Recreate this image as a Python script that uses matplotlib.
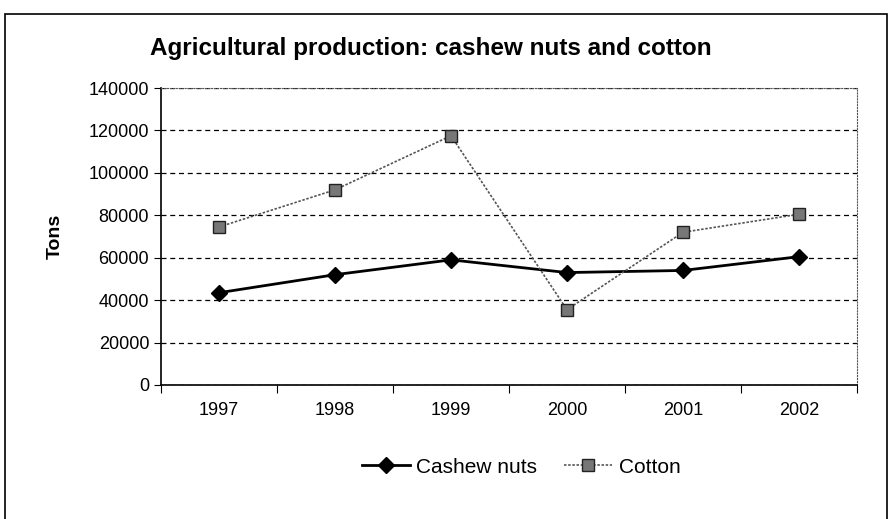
import matplotlib
matplotlib.use("Agg")
import matplotlib.pyplot as plt
from matplotlib.patches import Rectangle
import numpy as np

plt.rcParams['font.family'] = ['Liberation Sans', 'DejaVu Sans']

years = ['1997', '1998', '1999', '2000', '2001', '2002']
cashew = [43500, 52000, 59000, 53000, 54000, 60500]
cotton = [74500, 92000, 117500, 35500, 72000, 80500]

fig = plt.figure(figsize=(8.91, 5.19), dpi=100)
ax = fig.add_axes([0.1807, 0.2582, 0.7811, 0.5722])

# outer chart frame
fig.patches.append(Rectangle((0.006, -0.01), 0.99, 0.983, transform=fig.transFigure,
                             fill=False, edgecolor='black', linewidth=1.2))

x = np.arange(len(years))
ax.plot(x, cashew, color='black', linewidth=2, marker='D', markersize=8,
        markerfacecolor='black', label='Cashew nuts')
ax.plot(x, cotton, color='#555555', linewidth=1.2, linestyle=(0, (1.5, 1)),
        marker='s', markersize=9, markerfacecolor='#777777', markeredgecolor='#222222',
        label='Cotton')

ax.set_xlim(-0.5, 5.5)
ax.set_ylim(0, 140000)
ax.set_yticks(range(0, 140001, 20000))
ax.set_xticks(np.arange(-0.5, 6, 1))
ax.set_xticklabels([])
ax.set_xticks(x, minor=True)
ax.set_xticklabels(years, minor=True)
ax.tick_params(axis='x', which='minor', length=0, pad=12, labelsize=13)
ax.tick_params(axis='x', which='major', length=6, direction='out')
ax.tick_params(axis='y', length=5, direction='out', labelsize=13)

ax.yaxis.grid(True, color='black', linestyle=(0, (4, 3)), linewidth=0.9)
ax.set_axisbelow(True)
for side in ['top', 'right']:
    ax.spines[side].set_linestyle(':')
    ax.spines[side].set_color('#555555')
for side in ['left', 'bottom']:
    ax.spines[side].set_color('black')
    ax.spines[side].set_linewidth(1.2)

ax.set_ylabel('Tons', fontsize=14, fontweight='bold', labelpad=18)
fig.text(0.168, 0.907, 'Agricultural production: cashew nuts and cotton',
         fontsize=17.5, fontweight='bold', va='center')

fig.legend(loc='center', bbox_to_anchor=(0.585, 0.1), ncol=2, frameon=False,
           fontsize=15, handlelength=2.3, columnspacing=1.3, handletextpad=0.3)

fig.savefig('out.png', dpi=100)
